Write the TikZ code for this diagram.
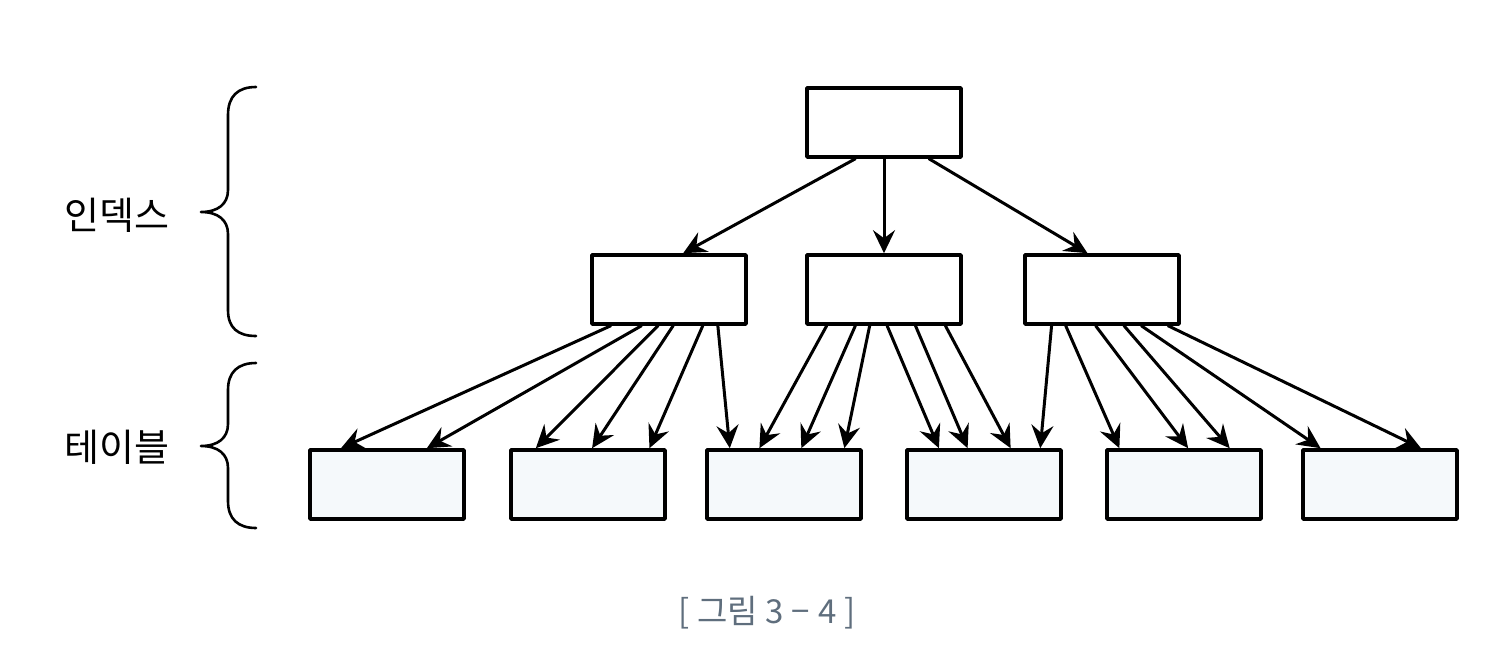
\documentclass[tikz,border=0pt]{standalone}
\usepackage{fontspec}
\newfontfamily\krfont{Noto Sans CJK KR}
\usepackage{tikz}
\usetikzlibrary{arrows.meta, calc, positioning}
\definecolor{tablefill}{RGB}{245,249,251}
\definecolor{captiongray}{RGB}{95,110,125}

\tikzset{
  idxbox/.style={draw, line width=1.8pt, fill=white, minimum width=77pt, minimum height=34.5pt, inner sep=0pt},
  tblbox/.style={idxbox, fill=tablefill},
  ptr/.style={-{Stealth[length=11.5pt,width=11pt,inset=4pt]}, line width=1.5pt},
  grp/.style={line width=1.3pt},
  lbl/.style={font=\krfont\fontsize{19pt}{19pt}\selectfont}
}

\begin{document}
\begin{tikzpicture}[x=0.5pt, y=-0.5pt, line cap=round, line join=round]

		% page frame
		\useasboundingbox (0,0) rectangle (1512,666);

		% index boxes
		\node[idxbox] (top) at (884,122.5) {};
		\node[idxbox] (mL) at (669,289.5) {};
		\node[idxbox] (mM) at (884,289.5) {};
		\node[idxbox] (mR) at (1102,289.5) {};

		% table boxes
		\foreach \i/\x in {1/387, 2/588, 3/784, 4/984, 5/1184, 6/1380}
			\node[tblbox] (t\i) at (\x,484.5) {};

		% root to second level
		\foreach \a/\s/\b/\e in {top/0.318/mL/0.59, top/0.5/mM/0.5, top/0.786/mR/0.408}
			\draw[ptr] ($(\a.south west)!\s!(\a.south east)$) -- ($(\b.north west)!\e!(\b.north east)$);

		% second level to table rows
		\foreach \a/\s/\b/\e in {mL/0.13/t1/0.208, mL/0.325/t1/0.753, mL/0.43/t2/0.169,
				mL/0.526/t2/0.526, mL/0.714/t2/0.89, mL/0.81/t3/0.156,
				mM/0.136/t3/0.344, mM/0.318/t3/0.61, mM/0.409/t3/0.883,
				mM/0.52/t4/0.214, mM/0.70/t4/0.396, mM/0.89/t4/0.669,
				mR/0.18/t4/0.857, mR/0.27/t5/0.09, mR/0.46/t5/0.526,
				mR/0.64/t5/0.79, mR/0.75/t6/0.123, mR/0.92/t6/0.76}
			\draw[ptr] ($(\a.south west)!\s!(\a.south east)$) -- ($(\b.north west)!\e!(\b.north east)$);

		% braces
		\draw[grp] (256,87) .. controls (238,87) and (228,96) .. (228,115) -- (228,190)
			.. controls (228,204) and (218,212) .. (201,212)
			.. controls (218,212) and (228,220) .. (228,234) -- (228,310)
			.. controls (228,328) and (238,336) .. (256,336);
		\draw[grp] (256,363) .. controls (238,363) and (228,372) .. (228,390) -- (228,424)
			.. controls (228,438) and (218,446) .. (201,446)
			.. controls (218,446) and (228,454) .. (228,468) -- (228,501)
			.. controls (228,519) and (238,528) .. (256,528);

		% labels
		\node[lbl] (idx) at (117,215) {인덱스};
		\node[lbl] (tbl) at (117,447) {테이블};

		% caption
		\node[font=\krfont\fontsize{16.5pt}{16.5pt}\selectfont, text=captiongray] (cap) at (767,613) {[ 그림 3\hspace{0.25em}−\hspace{0.25em}4 ]};
\end{tikzpicture}
\end{document}
